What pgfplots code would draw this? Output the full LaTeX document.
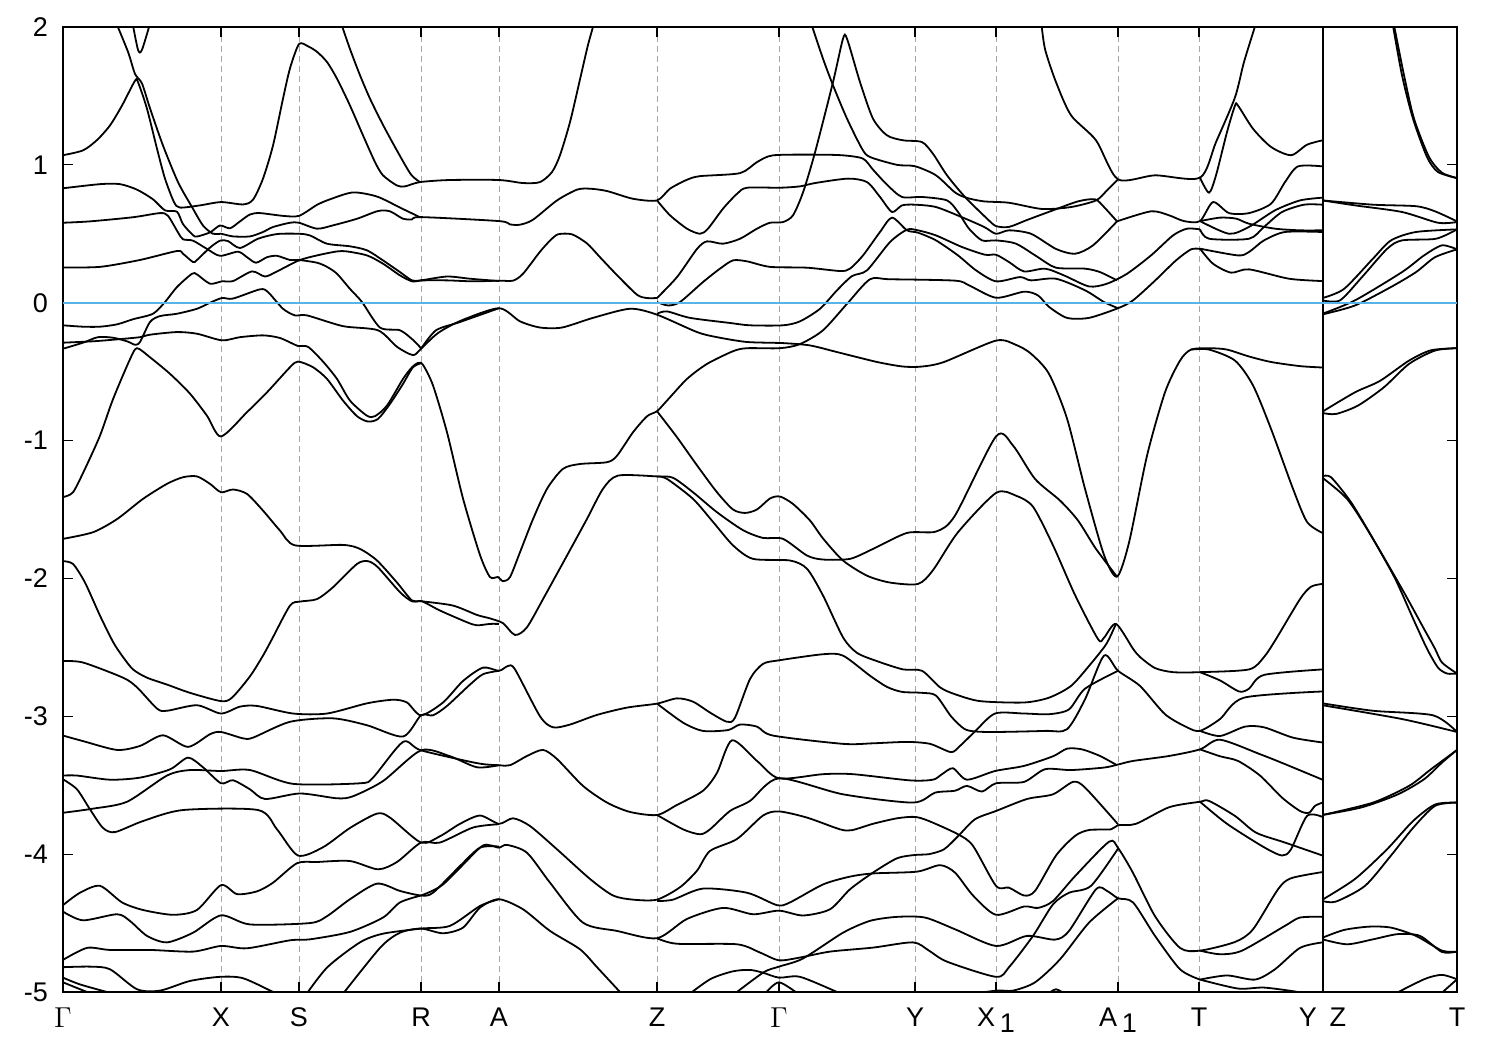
\documentclass[border=0pt]{standalone}
\usepackage{fontspec}
\setmainfont{Liberation Sans}
\usepackage{pgfplots}
\pgfplotsset{compat=1.18}
\pgfplotsset{band/.style={black, line width=0.9pt, no markers, smooth, tension=0.45}}
\definecolor{fermi}{HTML}{56B4E9}
\begin{document}
\begin{tikzpicture}[x=1pt,y=1pt]
\path[use as bounding box] (-31.5,-29) rectangle (718.5,496);
\begin{axis}[
    at={(0,0)}, anchor=south west,
    scale only axis, width=697pt, height=482.5pt,
    xmin=0, xmax=1394, ymin=-5, ymax=2,
    xtick={0,158,236,358,436,594,716,852,933,1055,1136,1259.5,1394},
    xticklabels={$\Gamma$,X,S,R,A,Z,$\Gamma$,Y,X\raisebox{-0.4ex}{\,1},A\raisebox{-0.4ex}{\,1},T,Y\hspace{0.48em}Z,T},
    ytick={-5,-4,-3,-2,-1,0,1,2},
    yticklabels={-5,-4,-3,-2,-1,0,1,2},
    tick align=inside, major tick length=5pt,
    tick style={black, line width=0.6pt},
    axis line style={black, line width=0.9pt},
    xmajorgrids, grid style={densely dashed, gray!70, line width=0.3pt},
    tick label style={font=\fontsize{13.5}{15}\selectfont},
    xticklabel style={yshift=-4.5pt},
    yticklabel style={xshift=-4pt},
]
% Gamma - X - S - R - A
\addplot[band] coordinates {(0,1.07)(20,1.105)(34,1.18)(47,1.286)(59,1.43)(72,1.61)(75,1.6)(84,1.407)(94,1.117)(102,.9)(111,.73)(117,.69)(137,.706)(158,.73)(180,.713)(190,.747)(200,.9)(210,1.14)(220,1.48)(227,1.7)(236,1.876)(245,1.86)(254,1.82)(264,1.746)(274,1.625)(287,1.43)(300,1.214)(312,1.02)(320,.924)(334,.85)(342,.844)(357,.875)(387,.89)(436,.89)(460,.868)(477,.875)(489,.948)(497,1.07)(507,1.31)(517,1.62)(525,1.87)(532,2.05)};
\addplot[band] coordinates {(69,2.05)(75,1.835)(79,1.835)(88,2.05)};
\addplot[band] coordinates {(52,2.05)(65,1.82)(72,1.66)(79,1.59)(87,1.41)(100,1.14)(115,.875)(129,.694)(140,.56)(150,.5)(158,.5)(170,.481)(187,.481)(200,.513)(210,.549)(227,.58)(236,.58)(254,.537)(270,.561)(294,.609)(315,.665)(327,.663)(340,.609)(349,.604)(358,.621)(436,.592)(447,.568)(457,.566)(470,.602)(494,.742)(514,.82)(527,.827)(544,.81)(570,.754)(594,.742)(607,.827)(624,.892)(637,.918)(677,.94)(694,1.02)(710,1.069)(752,1.074)(780,1.069)(800,1.045)(810,.965)(824,.856)(839,.767)(859,.767)(884,.742)(895,.658)(906,.537)(919,.452)(933,.452)(953,.428)(975,.33)(993,.254)(1022,.247)(1037,.222)(1054,.162)};
\addplot[band] coordinates {(277,2.05)(287,1.84)(297,1.65)(307,1.48)(320,1.29)(335,1.09)(348,.93)(357,.875)};
\addplot[band] coordinates {(0,.83)(37,.86)(57,.86)(74,.82)(90,.75)(102,.67)(114,.66)(120,.57)(130,.49)(134,.48)(147,.51)(157,.56)(167,.54)(177,.59)(187,.64)(197,.65)(220,.63)(236,.63)(254,.71)(267,.75)(290,.8)(314,.77)(337,.69)(357,.62)};
\addplot[band] coordinates {(0,.58)(27,.59)(70,.62)(97,.65)(105,.63)(115,.51)(120,.46)(130,.45)(144,.39)(157,.34)(175,.37)(184,.33)(193,.29)(204,.33)(214,.34)(227,.31)(236,.31)(254,.29)(264,.26)(274,.21)(287,.1)(299,.005)(317,-.18)(337,-.2)(350,-.27)(358,-.33)};
\addplot[band] coordinates {(0,.256)(37,.26)(77,.31)(114,.375)(120,.355)(130,.295)(134,.31)(147,.4)(157,.45)(165,.447)(177,.397)(195,.464)(214,.498)(236,.5)(247,.488)(264,.428)(287,.409)(304,.38)(320,.307)(337,.222)(349,.162)(358,.162)(384,.19)(407,.174)(436,.157)};
\addplot[band] coordinates {(358,.162)(384,.162)(410,.155)(436,.16)(450,.16)(460,.21)(477,.37)(487,.45)(495,.496)(509,.496)(524,.43)(537,.33)(554,.2)(574,.058)(584,.034)(594,.034)};
\addplot[band] coordinates {(0,-.164)(20,-.174)(37,-.174)(54,-.157)(70,-.12)(90,-.08)(102,.005)(114,.114)(129,.21)(134,.205)(147,.138)(159,.155)(170,.157)(189,.227)(202,.19)(214,.227)(236,.307)(254,.343)(274,.372)(284,.372)(304,.343)(320,.283)(337,.198)(349,.155)(358,.162)};
\addplot[band] coordinates {(0,-.334)(20,-.29)(35,-.25)(50,-.254)(64,-.28)(72,-.305)(77,-.285)(87,-.14)(97,-.097)(114,-.08)(134,-.044)(147,0)(159,.034)(170,.03)(197,.097)(205,.077)(220,-.044)(232,-.092)(244,-.092)(280,-.17)(315,-.2)(334,-.32)(350,-.38)(358,-.334)(375,-.22)(398,-.13)(436,-.04)(457,-.135)(477,-.18)(499,-.18)(530,-.11)(567,-.044)(594,-.087)(634,-.213)(654,-.25)(684,-.285)(720,-.293)(747,-.31)(774,-.358)(814,-.43)(840,-.463)(859,-.463)(881,-.43)(933,-.275)(953,-.306)(968,-.37)(986,-.516)(1004,-.84)(1022,-1.35)(1041,-1.83)(1054,-1.987)(1066,-1.74)(1084,-1.11)(1102,-.65)(1117,-.42)(1128,-.34)(1146,-.33)(1164,-.34)(1186,-.39)(1208,-.43)(1237,-.46)(1259.5,-.47)};
\addplot[band] coordinates {(1128,-.34)(1146,-.34)(1172,-.42)(1190,-.6)(1208,-.915)(1230,-1.35)(1244,-1.59)(1259.5,-1.67)};
\addplot[band] coordinates {(358,-.334)(373,-.2)(397,-.14)(436,-.04)};
\addplot[band] coordinates {(0,-.29)(30,-.28)(54,-.266)(77,-.25)(87,-.232)(114,-.213)(134,-.225)(159,-.273)(177,-.25)(200,-.237)(217,-.256)(235,-.314)(245,-.32)(260,-.427)(274,-.553)(287,-.71)(304,-.82)(312,-.823)(324,-.746)(340,-.553)(349,-.468)(355,-.437)(360,-.451)(370,-.6)(384,-.94)(400,-1.42)(417,-1.83)(427,-1.99)(435,-1.99)(440,-2.02)(447,-1.99)(457,-1.81)(470,-1.57)(484,-1.35)(500,-1.205)(517,-1.17)(544,-1.157)(554,-1.11)(570,-.94)(584,-.824)(594,-.787)(604,-.71)(624,-.553)(644,-.444)(670,-.352)(684,-.33)(717,-.33)(737,-.3)(760,-.2)(785,0)(807,.17)(827,.17)(892,.16)(906,.126)(933,.036)(961,.08)(975,.053)(986,-.03)(1004,-.11)(1026,-.11)(1055,-.04)(1070,.017)(1092,.16)(1113,.307)(1128,.387)(1137,.39)};
\addplot[band] coordinates {(0,-1.41)(10,-1.375)(22,-1.205)(37,-.964)(50,-.7)(67,-.41)(74,-.33)(87,-.396)(107,-.516)(127,-.66)(144,-.82)(158,-.97)(184,-.794)(204,-.65)(227,-.468)(235,-.427)(250,-.468)(264,-.553)(280,-.71)(294,-.823)(305,-.862)(315,-.843)(327,-.734)(340,-.589)(350,-.468)(359,-.437)};
\addplot[band] coordinates {(0,-1.713)(30,-1.665)(54,-1.57)(80,-1.423)(104,-1.314)(120,-1.266)(134,-1.26)(147,-1.314)(158,-1.375)(170,-1.355)(184,-1.387)(200,-1.508)(217,-1.653)(232,-1.76)(280,-1.757)(297,-1.786)(314,-1.87)(334,-2.03)(349,-2.16)(359,-2.166)(390,-2.197)(414,-2.265)(427,-2.29)(440,-2.325)(452,-2.41)(464,-2.354)(482,-2.124)(504,-1.834)(524,-1.568)(540,-1.35)(555,-1.254)(594,-1.26)(610,-1.27)(630,-1.375)(654,-1.52)(680,-1.65)(700,-1.706)(720,-1.713)(744,-1.834)(760,-1.863)(787,-1.858)(810,-1.786)(844,-1.67)(873,-1.66)(892,-1.544)(933,-.97)(950,-1.036)(972,-1.278)(997,-1.435)(1015,-1.58)(1033,-1.786)(1054,-1.987)};
\addplot[band] coordinates {(594,-1.26)(604,-1.278)(630,-1.423)(650,-1.59)(670,-1.76)(690,-1.858)(727,-1.87)(744,-1.93)(760,-2.124)(780,-2.427)(794,-2.54)(814,-2.6)(840,-2.66)(859,-2.67)(877,-2.79)(892,-2.84)(917,-2.89)(961,-2.9)(986,-2.865)(1008,-2.78)(1026,-2.635)(1041,-2.5)(1046,-2.44)(1053,-2.33)};
\addplot[band] coordinates {(0,-1.875)(10,-1.895)(22,-2.03)(37,-2.27)(50,-2.46)(59,-2.56)(70,-2.66)(84,-2.72)(104,-2.77)(127,-2.83)(158,-2.89)(169,-2.865)(187,-2.71)(200,-2.56)(209,-2.44)(227,-2.197)(237,-2.168)(254,-2.15)(270,-2.064)(294,-1.895)(305,-1.875)(315,-1.92)(337,-2.1)(349,-2.166)(359,-2.166)(377,-2.233)(404,-2.318)(414,-2.34)(427,-2.33)(436,-2.33)};
\addplot[band] coordinates {(0,-2.6)(20,-2.61)(60,-2.72)(74,-2.79)(94,-2.944)(104,-2.96)(134,-2.92)(158,-2.98)(177,-2.93)(194,-2.925)(230,-2.98)(264,-2.98)(304,-2.906)(330,-2.88)(344,-2.9)(358,-2.993)(380,-2.9)(400,-2.744)(420,-2.647)(436,-2.67)(445,-2.635)(452,-2.66)(477,-3)(490,-3.08)(507,-3.06)(534,-2.99)(564,-2.937)(594,-2.908)(614,-2.87)(630,-2.894)(647,-2.973)(664,-3.04)(672,-3.01)(687,-2.73)(700,-2.62)(716,-2.594)(760,-2.55)(780,-2.56)(807,-2.706)(824,-2.787)(839,-2.823)(859,-2.83)(873,-2.85)(888,-3)(901,-3.09)(912,-3.11)(933,-3.114)(982,-3.106)(1004,-3.094)(1022,-2.877)(1041,-2.56)(1055,-2.67)(1077,-2.78)(1102,-2.985)(1124,-3.08)(1137,-3.106)(1157,-3.02)(1181,-2.865)(1259.5,-2.82)};
\addplot[band] coordinates {(594,-2.908)(620,-3.046)(640,-3.106)(665,-3.1)(677,-3.06)(694,-3.075)(710,-3.14)(780,-3.2)(810,-3.196)(844,-3.186)(867,-3.2)(888,-3.26)(897,-3.215)(912,-3.11)(932,-2.98)(961,-2.98)(986,-2.985)(1006,-2.95)(1022,-2.8)(1055,-2.67)};
\addplot[band] coordinates {(1137,-3.106)(1157,-3.143)(1182,-3.075)(1201,-3.08)(1230,-3.155)(1259.5,-3.19)};
\addplot[band] coordinates {(0,-3.14)(20,-3.18)(54,-3.244)(77,-3.215)(100,-3.138)(125,-3.222)(147,-3.13)(158,-3.114)(180,-3.16)(190,-3.155)(227,-3.04)(270,-3.015)(304,-3.065)(340,-3.147)(358,-2.993)(370,-2.993)(384,-2.925)(407,-2.77)(420,-2.695)(436,-2.67)};
\addplot[band] coordinates {(0,-3.43)(14,-3.43)(47,-3.46)(77,-3.445)(107,-3.385)(125,-3.3)(140,-3.37)(158,-3.486)(170,-3.464)(187,-3.53)(202,-3.6)(237,-3.56)(274,-3.595)(290,-3.58)(320,-3.47)(358,-3.247)(387,-3.29)(414,-3.37)(436,-3.355)};
\addplot[band] coordinates {(0,-3.7)(30,-3.67)(64,-3.62)(104,-3.43)(127,-3.39)(158,-3.397)(187,-3.39)(230,-3.49)(297,-3.486)(310,-3.445)(340,-3.186)(358,-3.247)(414,-3.34)(436,-3.355)(447,-3.355)(464,-3.288)(480,-3.244)(494,-3.31)(520,-3.505)(544,-3.626)(567,-3.694)(594,-3.716)(614,-3.643)(640,-3.54)(654,-3.41)(669,-3.174)(694,-3.324)(716,-3.45)(760,-3.42)(790,-3.42)(847,-3.465)(870,-3.46)(879,-3.42)(890,-3.377)(904,-3.46)(932,-3.397)(961,-3.36)(990,-3.29)(1004,-3.235)(1019,-3.24)(1037,-3.288)(1054,-3.355)};
\addplot[band] coordinates {(594,-3.716)(620,-3.82)(637,-3.856)(647,-3.82)(667,-3.687)(687,-3.614)(716,-3.45)(780,-3.566)(850,-3.626)(872,-3.554)(892,-3.54)(904,-3.505)(919,-3.546)(933,-3.486)(961,-3.476)(982,-3.384)(1008,-3.39)(1041,-3.372)(1055,-3.35)(1070,-3.324)(1106,-3.288)(1137,-3.24)(1157,-3.17)(1197,-3.275)(1222,-3.347)(1259.5,-3.46)};
\addplot[band] coordinates {(1137,-3.24)(1157,-3.29)(1175,-3.324)(1197,-3.43)(1219,-3.59)(1237,-3.687)(1246,-3.7)(1252,-3.65)(1259.5,-3.626)};
\addplot[band] coordinates {(0,-3.457)(14,-3.53)(27,-3.675)(40,-3.81)(52,-3.84)(80,-3.76)(120,-3.68)(195,-3.68)(214,-3.82)(235,-4.01)(260,-3.95)(287,-3.81)(314,-3.706)(327,-3.735)(358,-3.916)(377,-3.87)(397,-3.78)(417,-3.72)(436,-3.78)(450,-3.74)(467,-3.796)(494,-3.965)(527,-4.18)(550,-4.3)(570,-4.33)(594,-4.33)(617,-4.24)(634,-4.12)(647,-3.977)(674,-3.89)(700,-3.72)(716,-3.69)(744,-3.735)(777,-3.82)(789,-3.826)(810,-3.78)(834,-3.74)(852,-3.73)(866,-3.76)(895,-3.856)(910,-3.94)(933,-4.23)(946,-4.243)(961,-4.3)(972,-4.267)(993,-4.01)(1012,-3.868)(1026,-3.825)(1048,-3.82)(1055,-3.79)(1073,-3.78)(1106,-3.66)(1137,-3.62)(1146,-3.614)(1172,-3.723)(1193,-3.844)(1222,-3.916)(1259.5,-4.01)};
\addplot[band] coordinates {(1137,-3.62)(1164,-3.78)(1201,-3.95)(1219,-4.01)(1228,-3.965)(1244,-3.723)(1259.5,-3.73)};
\addplot[band] coordinates {(594,-4.34)(610,-4.33)(640,-4.25)(684,-4.28)(714,-4.37)(727,-4.35)(760,-4.22)(787,-4.163)(810,-4.14)(854,-4.127)(877,-4.08)(892,-4.134)(910,-4.3)(933,-4.44)(961,-4.38)(975,-4.39)(990,-4.34)(1012,-4.16)(1046,-3.91)(1055,-3.955)(1070,-4.136)(1092,-4.45)(1117,-4.68)(1137,-4.7)(1172,-4.637)(1190,-4.545)(1215,-4.255)(1228,-4.175)(1259.5,-4.13)};
\addplot[band] coordinates {(1137,-4.7)(1157,-4.726)(1179,-4.7)(1222,-4.52)(1237,-4.46)(1259.5,-4.455)};
\addplot[band] coordinates {(0,-4.37)(17,-4.28)(37,-4.23)(59,-4.35)(80,-4.405)(110,-4.44)(134,-4.405)(158,-4.225)(174,-4.29)(194,-4.27)(210,-4.207)(234,-4.066)(254,-4.057)(287,-4.05)(315,-4.11)(334,-4.057)(358,-3.916)(377,-3.916)(410,-3.807)(436,-3.783)};
\addplot[band] coordinates {(0,-4.417)(20,-4.48)(54,-4.436)(67,-4.485)(84,-4.593)(104,-4.64)(130,-4.57)(158,-4.444)(187,-4.51)(247,-4.5)(264,-4.45)(287,-4.327)(314,-4.214)(337,-4.267)(358,-4.3)(370,-4.28)(397,-4.086)(417,-3.953)(436,-3.945)};
\addplot[band] coordinates {(358,-4.3)(380,-4.22)(417,-3.953)(427,-3.936)(436,-3.953)(444,-3.933)(464,-3.99)(487,-4.207)(520,-4.497)(554,-4.557)(594,-4.61)(624,-4.47)(660,-4.39)(690,-4.436)(716,-4.41)(740,-4.445)(767,-4.4)(787,-4.255)(810,-4.134)(834,-4.03)(852,-4.006)(866,-4)(881,-3.965)(895,-3.87)(912,-3.747)(933,-3.687)(964,-3.6)(990,-3.566)(1010,-3.476)(1022,-3.517)(1055,-3.783)};
\addplot[band] coordinates {(594,-4.61)(614,-4.65)(674,-4.654)(697,-4.714)(716,-4.77)(737,-4.75)(767,-4.707)(810,-4.678)(850,-4.64)(866,-4.7)(884,-4.78)(933,-4.89)(946,-4.82)(970,-4.593)(990,-4.364)(1006,-4.28)(1028,-4.23)(1055,-3.96)};
\addplot[band] coordinates {(0,-4.767)(24,-4.68)(47,-4.695)(87,-4.695)(130,-4.707)(158,-4.666)(184,-4.683)(227,-4.625)(247,-4.618)(287,-4.564)(320,-4.46)(337,-4.35)(358,-4.3)};
\addplot[band] coordinates {(0,-4.82)(27,-4.816)(47,-4.835)(74,-4.98)(97,-4.99)(127,-4.92)(157,-4.89)(180,-4.9)(210,-5)(222,-5.05)};
\addplot[band] coordinates {(0,-4.896)(17,-4.945)(44,-5)(60,-5.03)};
\addplot[band] coordinates {(0,-4.93)(24,-5)(35,-5.03)};
\addplot[band] coordinates {(240,-5.05)(264,-4.823)(297,-4.64)(320,-4.577)(358,-4.54)(387,-4.52)(417,-4.376)(436,-4.327)};
\addplot[band] coordinates {(276,-5.05)(317,-4.68)(337,-4.57)(358,-4.54)(380,-4.574)(400,-4.533)(417,-4.388)(436,-4.327)(460,-4.4)(487,-4.557)(517,-4.69)(534,-4.82)(557,-5)(570,-5.1)};
% Z - Gamma - Y - X1 - A1 - T - Y
\addplot[band] coordinates {(620,-5.05)(647,-4.908)(670,-4.85)(687,-4.84)(700,-4.86)(716,-4.896)(737,-4.89)(774,-5)(785,-5.04)};
\addplot[band] coordinates {(665,-5.05)(700,-4.86)(716,-4.816)(740,-4.757)(780,-4.57)(807,-4.484)(834,-4.455)(862,-4.46)(892,-4.545)(933,-4.666)(964,-4.593)(992,-4.62)(1006,-4.557)(1033,-4.255)(1044,-4.267)(1055,-4.32)(1070,-4.35)(1092,-4.593)(1117,-4.835)(1137,-4.91)};
\addplot[band] coordinates {(700,-5.03)(716,-4.93)(740,-5.04)};
\addplot[band] coordinates {(895,-5.03)(933,-4.99)(950,-4.99)(972,-4.93)(997,-4.763)(1026,-4.497)(1055,-4.32)};
\addplot[band] coordinates {(982,-5.03)(993,-4.98)(1005,-5.03)};
\addplot[band] coordinates {(1137,-4.91)(1164,-4.88)(1192,-4.91)(1212,-4.835)(1237,-4.68)(1259.5,-4.64)};
\addplot[band] coordinates {(1137,-4.91)(1175,-4.975)(1201,-4.968)(1235,-5)(1250,-5.03)};
\addplot[band] coordinates {(747,2.05)(760,1.77)(770,1.577)(784,1.335)(799,1.117)(807,1.057)(834,1)(852,.99)(873,.924)(892,.8)(904,.76)(921,.735)(946,.725)(979,.68)(1008,.694)(1033,.742)(1044,.815)(1055,.895)};
\addplot[band] coordinates {(594,.034)(614,.186)(634,.39)(644,.445)(660,.428)(677,.464)(694,.537)(707,.58)(720,.585)(730,.634)(740,.8)(752,1.09)(770,1.6)(780,1.915)(784,1.915)(797,1.6)(810,1.335)(824,1.214)(840,1.178)(859,1.165)(870,1.08)(884,.924)(902,.767)(924,.61)(933,.556)(946,.55)(964,.6)(990,.67)(1015,.735)(1032,.75)(1041,.694)(1054,.59)};
\addplot[band] coordinates {(594,.742)(607,.634)(624,.537)(637,.5)(645,.537)(660,.682)(674,.79)(684,.834)(717,.834)(737,.844)(752,.868)(785,.9)(804,.875)(817,.767)(829,.658)(839,.706)(852,.711)(873,.694)(899,.62)(921,.55)(933,.5)(946,.525)(968,.5)(993,.39)(1012,.355)(1030,.416)(1054,.59)};
\addplot[band] coordinates {(594,-.08)(604,-.063)(627,-.11)(667,-.147)(687,-.164)(720,-.164)(737,-.135)(757,-.044)(774,.09)(789,.193)(804,.235)(827,.44)(844,.53)(855,.525)(873,.488)(899,.404)(922,.348)(933,.348)(946,.295)(961,.227)(982,.247)(1001,.198)(1026,.118)(1044,.138)(1064,.21)(1088,.343)(1110,.488)(1124,.537)(1137,.532)};
\addplot[band] coordinates {(594,.005)(605,-.02)(617,.005)(640,.15)(657,.247)(670,.307)(684,.3)(707,.26)(744,.254)(777,.23)(787,.247)(800,.343)(817,.513)(829,.617)(844,.525)(855,.508)(873,.452)(895,.343)(913,.235)(933,.155)(957,.186)(968,.162)(993,.174)(1022,.09)(1041,.005)(1055,-.04)};
\addplot[band] coordinates {(978,2.05)(982,1.84)(993,1.6)(1008,1.36)(1033,1.178)(1055,.895)(1092,.924)(1137,.907)(1153,1.165)(1172,1.49)(1181,1.746)(1194,2.05)};
\addplot[band] coordinates {(1137,.907)(1146,.798)(1153,.924)(1164,1.238)(1172,1.43)(1175,1.43)(1190,1.262)(1208,1.13)(1228,1.07)(1244,1.146)(1259.5,1.178)};
\addplot[band] coordinates {(1054,.59)(1088,.663)(1106,.634)(1121,.592)(1137,.592)(1150,.73)(1166,.65)(1186,.65)(1208,.718)(1222,.875)(1235,.989)(1259.5,.989)};
\addplot[band] coordinates {(1137,.592)(1157,.617)(1173,.61)(1186,.573)(1212,.537)(1237,.525)(1259.5,.525)};
\addplot[band] coordinates {(1137,.592)(1166,.5)(1186,.55)(1212,.67)(1237,.742)(1259.5,.762)};
\addplot[band] coordinates {(1137,.532)(1146,.464)(1186,.464)(1201,.55)(1219,.658)(1241,.711)(1259.5,.711)};
\addplot[band] coordinates {(1137,.392)(1175,.343)(1186,.368)(1201,.452)(1222,.513)(1259.5,.513)};
\addplot[band] coordinates {(1137,.392)(1150,.283)(1168,.218)(1186,.242)(1226,.174)(1259.5,.157)};
\addplot[band] coordinates {(594,-.787)(614,-.976)(634,-1.18)(654,-1.375)(670,-1.5)(682,-1.525)(694,-1.5)(707,-1.42)(717,-1.406)(730,-1.46)(747,-1.58)(760,-1.71)(780,-1.87)(804,-1.98)(827,-2.03)(855,-2.04)(870,-1.94)(895,-1.665)(933,-1.38)(953,-1.4)(970,-1.48)(990,-1.76)(1012,-2.12)(1035,-2.44)(1041,-2.43)(1053,-2.33)(1070,-2.51)(1077,-2.57)(1092,-2.65)(1110,-2.68)(1137,-2.68)(1186,-2.66)(1201,-2.57)(1213,-2.44)(1237,-2.15)(1248,-2.06)(1259.5,-2.04)};
\addplot[band] coordinates {(1137,-2.68)(1157,-2.74)(1176,-2.82)(1186,-2.8)(1201,-2.7)(1259.5,-2.66)};
% Z - T
\addplot[band] coordinates {(1329,2.05)(1339,1.65)(1350,1.335)(1364,1.057)(1375,.948)(1394,.904)};
\addplot[band] coordinates {(1330,2.05)(1341,1.65)(1351,1.335)(1366,1.057)(1379,.943)(1394,.904)};
\addplot[band] coordinates {(1259.5,.742)(1310,.711)(1353,.7)(1372,.663)(1394,.59)};
\addplot[band] coordinates {(1259.5,.742)(1292,.706)(1339,.658)(1375,.58)(1394,.585)};
\addplot[band] coordinates {(1259.5,.034)(1281,.1)(1310,.32)(1328,.452)(1353,.513)(1394,.532)};
\addplot[band] coordinates {(1259.5,.017)(1277,.017)(1299,.186)(1324,.39)(1339,.452)(1373,.464)(1394,.532)};
\addplot[band] coordinates {(1259.5,-.08)(1292,.017)(1339,.222)(1361,.343)(1379,.416)(1394,.387)};
\addplot[band] coordinates {(1259.5,-.085)(1292,-.02)(1328,.114)(1353,.222)(1372,.33)(1394,.387)};
\addplot[band] coordinates {(1259.5,-.79)(1292,-.65)(1317,-.567)(1346,-.42)(1368,-.345)(1394,-.33)};
\addplot[band] coordinates {(1259.5,-.8)(1273,-.807)(1295,-.746)(1321,-.613)(1346,-.444)(1372,-.347)(1394,-.33)};
\addplot[band] coordinates {(1259.5,-1.26)(1268,-1.266)(1288,-1.447)(1310,-1.713)(1332,-2)(1350,-2.29)(1364,-2.51)(1375,-2.647)(1384,-2.69)(1394,-2.69)};
\addplot[band] coordinates {(1259.5,-1.27)(1284,-1.423)(1306,-1.665)(1339,-2.076)(1361,-2.366)(1372,-2.51)(1379,-2.61)(1394,-2.69)};
\addplot[band] coordinates {(1259.5,-2.906)(1310,-2.96)(1370,-2.993)(1394,-3.114)};
\addplot[band] coordinates {(1259.5,-2.92)(1339,-3.02)(1394,-3.114)};
\addplot[band] coordinates {(1259.5,-3.716)(1310,-3.626)(1346,-3.505)(1368,-3.384)(1394,-3.244)};
\addplot[band] coordinates {(1259.5,-3.716)(1299,-3.66)(1335,-3.566)(1361,-3.457)(1379,-3.336)(1394,-3.244)};
\addplot[band] coordinates {(1259.5,-4.33)(1292,-4.18)(1324,-3.965)(1350,-3.76)(1372,-3.64)(1394,-3.626)};
\addplot[band] coordinates {(1259.5,-4.34)(1273,-4.344)(1302,-4.23)(1328,-4.01)(1350,-3.81)(1372,-3.65)(1394,-3.626)};
\addplot[band] coordinates {(1259.5,-4.606)(1281,-4.55)(1306,-4.526)(1328,-4.533)(1353,-4.593)(1379,-4.7)(1394,-4.707)};
\addplot[band] coordinates {(1259.5,-4.618)(1284,-4.654)(1310,-4.618)(1335,-4.58)(1357,-4.593)(1379,-4.71)(1394,-4.707)};
\addplot[band] coordinates {(1322,-5.05)(1361,-4.908)(1379,-4.876)(1394,-4.908)};
\addplot[band] coordinates {(1372,-5.05)(1394,-4.908)};
% divider and Fermi level
\addplot[black, line width=1pt, no markers] coordinates {(1259.5,-5)(1259.5,2)};
\addplot[fermi, line width=0.8pt, no markers] coordinates {(0,0)(1394,0)};
\end{axis}
\end{tikzpicture}
\end{document}
